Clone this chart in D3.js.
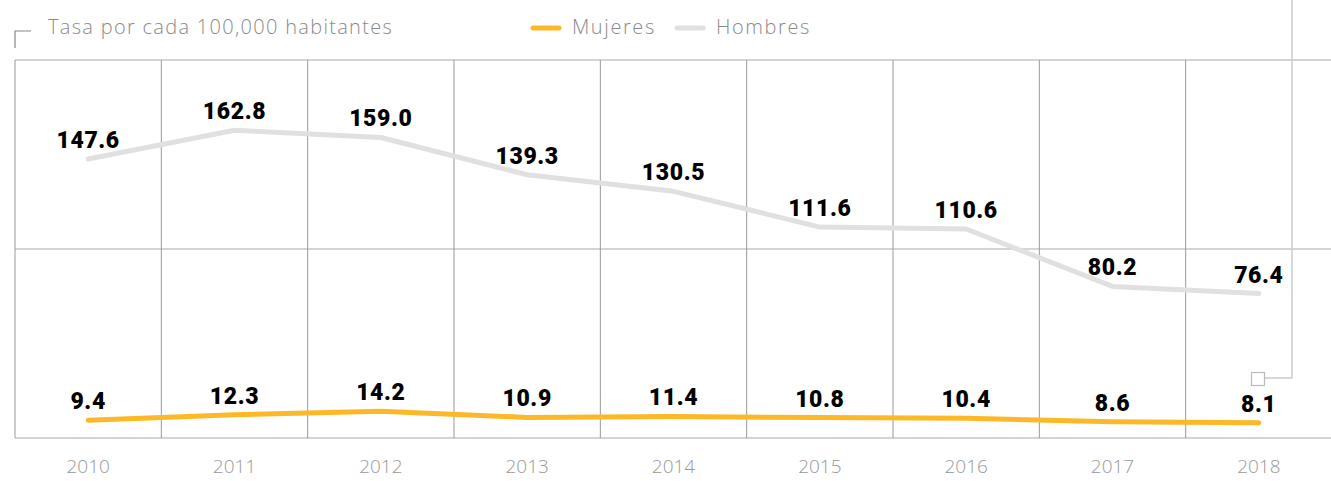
<!DOCTYPE html>
<html lang="es">
<head>
<meta charset="UTF-8">
<title>Tasa por cada 100,000 habitantes</title>
<script src="https://d3js.org/d3.v7.min.js"></script>
<style>
  body { margin: 0; background: #fff; }
</style>
</head>
<body>
<div id="chart"></div>
<script>
// data
const years = ['2010', '2011', '2012', '2013', '2014', '2015', '2016', '2017', '2018'];
const hombres = [147.6, 162.8, 159.0, 139.3, 130.5, 111.6, 110.6, 80.2, 76.4];
const mujeres = [9.4, 12.3, 14.2, 10.9, 11.4, 10.8, 10.4, 8.6, 8.1];
const yTicks = [0, 100, 200];

const W = 1331, H = 481;
const svg = d3.select('#chart').append('svg')
    .attr('width', W)
    .attr('height', H);

const x = d3.scaleBand().domain(years).range([15, 1332]).padding(0);
const y = d3.scaleLinear().domain([0, 200]).range([438, 60]);
const cx = d => x(d) + x.bandwidth() / 2;

// horizontal grid
svg.selectAll('.hgrid')
    .data(yTicks)
    .enter().append('line')
    .attr('x1', 15).attr('x2', W)
    .attr('y1', d => y(d)).attr('y2', d => y(d))
    .attr('stroke', '#aaa')
    .attr('stroke-width', 1.2);

// vertical grid
svg.selectAll('.vgrid')
    .data(years)
    .enter().append('line')
    .attr('x1', d => x(d)).attr('x2', d => x(d))
    .attr('y1', y(200)).attr('y2', y(0))
    .attr('stroke', '#999')
    .attr('stroke-width', 1);

// connector decoration on right
svg.append('path')
    .attr('d', 'M1292,0 V378 H1265')
    .attr('fill', 'none')
    .attr('stroke', '#ccc')
    .attr('stroke-width', 1.5);
svg.append('rect')
    .attr('x', 1251.5).attr('y', 372.5)
    .attr('width', 13).attr('height', 13)
    .attr('fill', '#fff')
    .attr('stroke', '#bbb')
    .attr('stroke-width', 1.2);

// title bracket + title
svg.append('path')
    .attr('d', 'M15,48 V31 H31')
    .attr('fill', 'none')
    .attr('stroke', '#888')
    .attr('stroke-width', 1.2);
svg.append('text')
    .attr('x', 48).attr('y', 34)
    .text('Tasa por cada 100,000 habitantes')
    .attr('fill', '#8a8a8a')
    .attr('font-size', '20px')
    .attr('font-weight', 300)
    .attr('letter-spacing', '1.3px')
    .attr('font-family', 'Open Sans, sans-serif');

// legend
const legend = [
    { name: 'Mujeres', color: '#fdb827', x: 531 },
    { name: 'Hombres', color: '#e0e0e0', x: 675 }
];
legend.forEach(l => {
    svg.append('line')
        .attr('x1', l.x + 2).attr('x2', l.x + 28)
        .attr('y1', 28).attr('y2', 28)
        .attr('stroke', l.color)
        .attr('stroke-width', 5)
        .attr('stroke-linecap', 'round');
    svg.append('text')
        .attr('x', l.x + 41).attr('y', 34)
        .text(l.name)
        .attr('fill', '#8a8a8a')
        .attr('font-size', '20px')
        .attr('font-weight', 300)
        .attr('letter-spacing', '1.6px')
        .attr('font-family', 'Open Sans, sans-serif');
});

// lines
const line = d3.line()
    .x((d, i) => cx(years[i]))
    .y(d => y(d));

const series = [
    { values: hombres, color: '#e0e0e0' },
    { values: mujeres, color: '#fdb827' }
];
series.forEach(s => {
    svg.append('path')
        .datum(s.values)
        .attr('d', line)
        .attr('fill', 'none')
        .attr('stroke', s.color)
        .attr('stroke-width', 5)
        .attr('stroke-linecap', 'round')
        .attr('stroke-linejoin', 'round');

    svg.selectAll(null)
        .data(s.values)
        .enter().append('text')
        .attr('x', (d, i) => cx(years[i]))
        .attr('y', d => y(d) - 11)
        .attr('text-anchor', 'middle')
        .text(d => d.toFixed(1))
        .attr('fill', '#000')
        .attr('font-size', '23px')
        .attr('font-weight', 900)
        .attr('letter-spacing', '0.6px')
        .attr('font-family', 'Roboto, sans-serif');
});

// x axis labels
svg.selectAll('.xlab')
    .data(years)
    .enter().append('text')
    .attr('x', d => cx(d))
    .attr('y', 473)
    .attr('text-anchor', 'middle')
    .text(d => d)
    .attr('fill', '#999')
    .attr('font-size', '19px')
    .attr('font-weight', 300)
    .attr('font-family', 'Open Sans, sans-serif');
</script>
</body>
</html>
